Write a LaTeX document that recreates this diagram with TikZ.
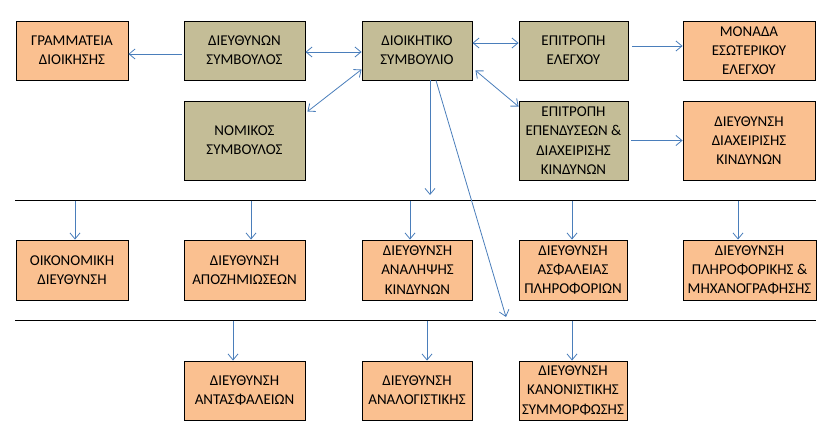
\documentclass[tikz,border=0pt]{standalone}
\usepackage{fontspec}
\setmainfont{Carlito}
\definecolor{tan}{HTML}{C4BD97}
\definecolor{peach}{HTML}{FAC090}
\definecolor{steel}{HTML}{4A7EBB}
\usepackage{tikz}
\usetikzlibrary{calc, positioning, arrows.meta}

\begin{document}
\begin{tikzpicture}[x=1pt, y=-1pt,
    unitbox/.style={draw=black, line width=0.9pt, rectangle, align=center, inner sep=0pt,
      font=\fontsize{15}{19.3}\selectfont},
    tanbox/.style={unitbox, fill=tan},
    orangebox/.style={unitbox, fill=peach},
    link/.style={steel, line width=0.8pt, -{Straight Barb[length=6pt, width=10pt]}},
    twoway/.style={link, {Straight Barb[length=6pt, width=10pt]}-{Straight Barb[length=6pt, width=10pt]}},
    bus/.style={black, line width=1pt}]
  \useasboundingbox (0,0) rectangle (835,441);

  % top rows
  \node[orangebox, minimum width=112pt, minimum height=59pt] (gram) at (72,50.5) {ΓΡΑΜΜΑΤΕΙΑ\\ΔΙΟΙΚΗΣΗΣ};
  \node[tanbox, minimum width=121pt, minimum height=59pt] (ceo) at (244.5,50.5) {ΔΙΕΥΘΥΝΩΝ\\ΣΥΜΒΟΥΛΟΣ};
  \node[tanbox, minimum width=110pt, minimum height=59pt] (board) at (417,50.5) {ΔΙΟΙΚΗΤΙΚΟ\\ΣΥΜΒΟΥΛΙΟ};
  \node[tanbox, minimum width=109pt, minimum height=59pt] (audit) at (573.5,50.5) {ΕΠΙΤΡΟΠΗ\\ΕΛΕΓΧΟΥ};
  \node[orangebox, minimum width=132pt, minimum height=59pt] (internal) at (749,50.5) {ΜΟΝΑΔΑ\\ΕΣΩΤΕΡΙΚΟΥ\\ΕΛΕΓΧΟΥ};
  \node[tanbox, minimum width=121pt, minimum height=79pt] (legal) at (244.5,140.5) {ΝΟΜΙΚΟΣ\\ΣΥΜΒΟΥΛΟΣ};
  \node[tanbox, minimum width=109pt, minimum height=79pt] (invest) at (573.5,140.5) {ΕΠΙΤΡΟΠΗ\\ΕΠΕΝΔΥΣΕΩΝ \&\\ΔΙΑΧΕΙΡΙΣΗΣ\\ΚΙΝΔΥΝΩΝ};
  \node[orangebox, minimum width=132pt, minimum height=79pt] (riskmgmt) at (749,140.5) {ΔΙΕΥΘΥΝΣΗ\\ΔΙΑΧΕΙΡΙΣΗΣ\\ΚΙΝΔΥΝΩΝ};

  % second row
  \node[orangebox, minimum width=112pt, minimum height=60pt] (finance) at (72,270) {ΟΙΚΟΝΟΜΙΚΗ\\ΔΙΕΥΘΥΝΣΗ};
  \node[orangebox, minimum width=121pt, minimum height=60pt] (claims) at (244.5,270) {ΔΙΕΥΘΥΝΣΗ\\ΑΠΟΖΗΜΙΩΣΕΩΝ};
  \node[orangebox, minimum width=110pt, minimum height=60pt] (under) at (417.5,270) {ΔΙΕΥΘΥΝΣΗ\\ΑΝΑΛΗΨΗΣ\\ΚΙΝΔΥΝΩΝ};
  \node[orangebox, minimum width=108pt, minimum height=60pt] (infosec) at (573,270) {ΔΙΕΥΘΥΝΣΗ\\ΑΣΦΑΛΕΙΑΣ\\ΠΛΗΡΟΦΟΡΙΩΝ};
  \node[orangebox, minimum width=133pt, minimum height=60pt] (it) at (749.5,270) {ΔΙΕΥΘΥΝΣΗ\\ΠΛΗΡΟΦΟΡΙΚΗΣ \&\\ΜΗΧΑΝΟΓΡΑΦΗΣΗΣ};

  % third row
  \node[orangebox, minimum width=121pt, minimum height=59pt] (reins) at (244.5,390.5) {ΔΙΕΥΘΥΝΣΗ\\ΑΝΤΑΣΦΑΛΕΙΩΝ};
  \node[orangebox, minimum width=110pt, minimum height=59pt] (actuarial) at (417,390.5) {ΔΙΕΥΘΥΝΣΗ\\ΑΝΑΛΟΓΙΣΤΙΚΗΣ};
  \node[orangebox, minimum width=108pt, minimum height=59pt] (compliance) at (573,390.5) {ΔΙΕΥΘΥΝΣΗ\\ΚΑΝΟΝΙΣΤΙΚΗΣ\\ΣΥΜΜΟΡΦΩΣΗΣ};

  % bus lines
  \coordinate (busA-w) at (15,200.5);
  \coordinate (busA-e) at (816,200.5);
  \coordinate (busB-w) at (15,320.5);
  \coordinate (busB-e) at (816,320.5);
  \draw[bus] (busA-w) -- (busA-e);
  \draw[bus] (busB-w) -- (busB-e);

  % board links
  \draw[link, shorten <=2pt] ([yshift=-3.5pt]ceo.west) -- ([yshift=-3.5pt]gram.east);
  \draw[twoway] ([yshift=-1.5pt]ceo.east) -- ([yshift=-1.5pt]board.west);
  \draw[twoway] ([shift={(2pt,-11pt)}]legal.north east) -- ([yshift=11pt]board.south west);
  \draw[twoway] ([yshift=7.5pt]board.east) -- ([yshift=7.5pt]audit.west);
  \draw[twoway] ([shift={(3pt,10pt)}]board.south east) -- ([yshift=-6pt]invest.north west);
  \draw[link, shorten <=4pt] ([yshift=4.5pt]audit.east) -- ([yshift=4.5pt]internal.west);
  \draw[link, shorten <=3pt] (invest.east) -- (riskmgmt.west);

  \coordinate (boardend) at (430,195);
  \coordinate (diagend) at (506,317);
  \draw[link] (board.south -| boardend) -- (boardend);
  \draw[link] ([xshift=19pt]board.south) -- (diagend);

  % drops from the bus lines
  \foreach \x/\n in {75/finance, 251/claims, 410/under, 572/infosec, 738/it}{
    \coordinate (drop-\n) at (\x,200.5);
    \draw[link] (drop-\n) -- (drop-\n |- \n.north);
  }
  \foreach \x/\n in {233/reins, 427/actuarial, 572/compliance}{
    \coordinate (drop-\n) at (\x,320.5);
    \draw[link] (drop-\n) -- (drop-\n |- \n.north);
  }
\end{tikzpicture}
\end{document}
